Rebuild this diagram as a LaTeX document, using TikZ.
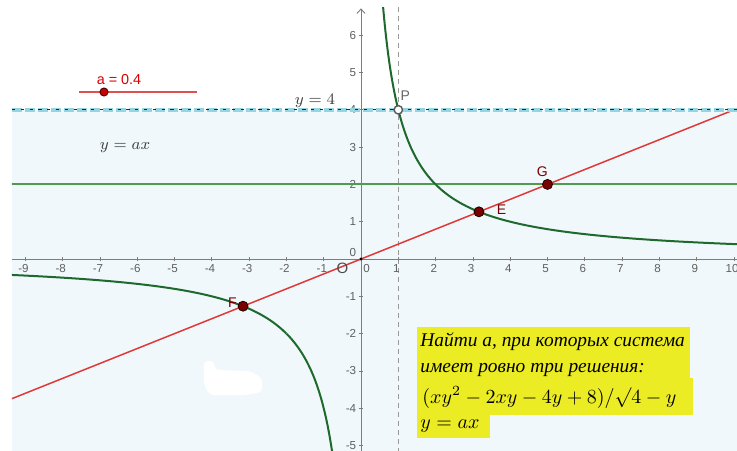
\documentclass[tikz,border=0pt]{standalone}
\usepackage[no-math]{fontspec}
\usetikzlibrary{arrows.meta}
\newfontfamily\ruserif{Liberation Serif}
\newfontfamily\gsans{Liberation Sans}
\definecolor{bgblue}{RGB}{241,248,251}
\definecolor{axisgray}{RGB}{125,125,125}
\definecolor{labgray}{RGB}{95,95,95}
\definecolor{curvegreen}{RGB}{30,105,45}
\definecolor{linegreen}{RGB}{80,155,80}
\definecolor{linered}{RGB}{225,55,55}
\definecolor{ptred}{RGB}{120,0,0}
\definecolor{dashblue}{RGB}{150,212,226}
\definecolor{hiyellow}{RGB}{236,236,36}
\definecolor{slred}{RGB}{225,80,80}
\tikzset{
  axlab/.style={font=\gsans\fontsize{5.8}{6}\selectfont, text=labgray, inner sep=0pt},
  ptlab/.style={font=\gsans\fontsize{7}{8}\selectfont, text=ptred, inner sep=0pt},
  dotpt/.style={circle, fill=ptred, draw=black!80!ptred, line width=0.4pt, minimum size=5pt, inner sep=0pt},
  openpt/.style={circle, fill=white, draw=black!65, line width=0.7pt, minimum size=4.2pt, inner sep=0pt},
  mathlab/.style={font=\fontsize{8.2}{9}\selectfont, text=black!75, inner sep=0pt},
  rutext/.style={font=\ruserif\itshape\fontsize{9.7}{11}\selectfont, text=black, inner sep=0pt, anchor=base west, text height=6.5pt, text depth=1.5pt},
  formtext/.style={font=\fontsize{10.3}{11}\selectfont, text=black, inner sep=0pt, anchor=base west, text height=6.5pt, text depth=1.5pt}
}
\begin{document}
\begin{tikzpicture}[x=0.5pt,y=-0.5pt]
\useasboundingbox (0,0) rectangle (737,450);
\fill[white] (0,0) rectangle (737,450);
\begin{scope}[shift={(361,259)},x=18.65pt,y=18.65pt]
  \clip (-9.357,-5.121) rectangle (10.08,6.75);
  \fill[bgblue] (-9.357,-5.2) rectangle (10.1,4);
  % vertical dashed line x = 1
  \draw[black!40, line width=0.8pt, dash pattern=on 2.5pt off 2pt] (1,-5.2) -- (1,6.8);
  % axes
  \draw[axisgray, line width=0.45pt] (-9.357,0) -- (10.1,0);
  \draw[axisgray, line width=0.45pt, -{Straight Barb[length=2.2pt,width=4pt]}] (0,-5.2) -- (0,6.72);
  \foreach \i in {-9,...,-1,1,2,...,10} {
    \draw[axisgray, line width=0.4pt] (\i,-0.06) -- (\i,0.06);
    \node[axlab] (xl\i) at (\i-0.05,-0.25) {\i};
  }
  \foreach \i in {-5,...,-1,1,2,...,6} {
    \draw[axisgray, line width=0.4pt] (-0.06,\i) -- (0.06,\i);
    \node[axlab, anchor=east] (yl\i) at (-0.12,\i) {\i};
  }
  \node[axlab] (yl0) at (-0.22,0.17) {0};
  \node[axlab] (xl0) at (0.15,-0.25) {0};
  % green line y = 2
  \draw[linegreen, line width=1.05pt] (-9.4,2) -- (10.1,2);
  % hyperbola y = 4/x
  \draw[curvegreen, line width=1pt, domain=0.55:2, samples=120, smooth] plot (\x,{4/\x});
  \draw[curvegreen, line width=1pt, domain=2:10.2, samples=60, smooth] plot (\x,{4/\x});
  \draw[curvegreen, line width=1pt, domain=-9.5:-2, samples=60, smooth] plot (\x,{4/\x});
  \draw[curvegreen, line width=1pt, domain=-2:-0.74, samples=120, smooth] plot (\x,{4/\x});
  % red line y = 0.4x
  \draw[linered, line width=0.75pt] (-9.5,-3.8) -- (10.2,4.08);
  % y = 4 dashed
  \draw[dashblue, line width=1.7pt, dash pattern=on 5pt off 1.5pt] (-9.357,4) -- (10.1,4);
  \draw[black!85, line width=0.4pt, dash pattern=on 1.6pt off 2.8pt] (-9.357,4) -- (10.1,4);
  % points
  \node[circle, fill=black, minimum size=1.6pt, inner sep=0pt] (O) at (0,0) {};
  \node[axlab, font=\gsans\fontsize{7.5}{8}\selectfont, text=black!70] (Olab) at (-0.5,-0.24) {O};
  \node[dotpt] (E) at (3.162,1.265) {};
  \node[dotpt] (F) at (-3.162,-1.265) {};
  \node[dotpt] (G) at (5,2) {};
  \node[openpt] (P) at (1,4) {};
  \node[ptlab] (Elab) at (3.77,1.31) {E};
  \node[ptlab] (Flab) at (-3.45,-1.18) {F};
  \node[ptlab] (Glab) at (4.86,2.34) {G};
  \node[ptlab, text=black!60] (Plab) at (1.19,4.37) {P};
\end{scope}
% slider
\draw[slred, line width=0.75pt] (79,92) -- (197,92);
\node[circle, fill=red!80!black, draw=black!70!red, line width=0.5pt, minimum size=4pt, inner sep=0pt] (slider) at (104,92) {};
\node[font=\gsans\fontsize{7.2}{8}\selectfont, text=red!85!black, inner sep=0pt] (alab) at (119,80) {a = 0.4};
% labels
\node[mathlab] (y4) at (315,101) {$y=4$};
\node[mathlab] (yax) at (125,148) {$y=ax$};
% white blob
\fill[white, rounded corners=2pt] (204,361) -- (214,361) -- (215,370) -- (250,371) -- (262,378) -- (262,392) -- (245,395) -- (210,395) -- (204,385) -- cycle;
% yellow box
\fill[hiyellow] (417,327) rectangle (690,380);
\fill[hiyellow] (417,378) rectangle (693,415);
\fill[hiyellow] (417,413) rectangle (490,438);
\node[rutext] (t1) at (420,346) {Найти а, при которых система};
\node[rutext] (t2) at (420,372) {имеет ровно три решения:};
\node[formtext] (t3) at (422,403) {$(xy^2-2xy-4y+8)/\surd4-y$};
\node[formtext] (t4) at (420,428) {$y=ax$};
\end{tikzpicture}
\end{document}
